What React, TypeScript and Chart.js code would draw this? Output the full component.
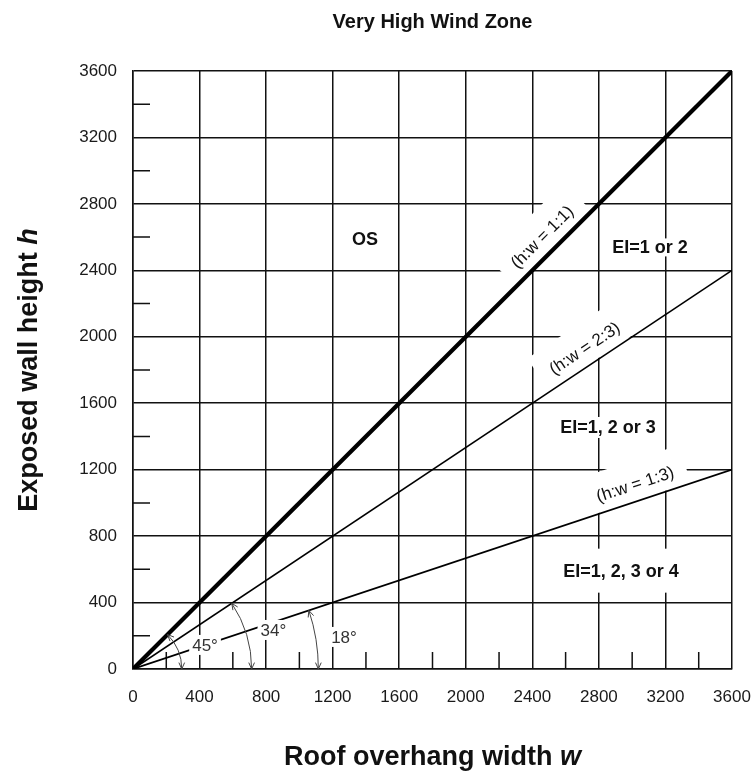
import React, { useEffect, useRef } from "react";
import { Chart, registerables } from "chart.js";

Chart.register(...registerables);

const chartTitle = "Very High Wind Zone";
const xTitleText = "Roof overhang width ";
const xTitleVar = "w";
const yTitleText = "Exposed wall height ";
const yTitleVar = "h";

const axisMin = 0;
const axisMax = 3600;
const majorTicks = [0, 400, 800, 1200, 1600, 2000, 2400, 2800, 3200, 3600];
const minorTicks = [200, 600, 1000, 1400, 1800, 2200, 2600, 3000, 3400];

const ratioLabels = ["(h:w = 1:1)", "(h:w = 2:3)", "(h:w = 1:3)"];
const ratioEndW = [3600, 3600, 3600];
const ratioEndH = [3600, 2400, 1200];
const ratioLabelW = [2530, 2770, 3050];

const zoneLabels = ["OS", "EI=1 or 2", "EI=1, 2 or 3", "EI=1, 2, 3 or 4"];
const zoneLabelW = [1394, 3107, 2855, 2933];
const zoneLabelH = [2588, 2538, 1454, 592];

const angleLabels = ["45°", "34°", "18°"];
const angleLineIndex = [0, 1, 2];
const angleArcReachW = [293, 713, 1114];
const angleLabelW = [433, 844, 1268];
const angleLabelH = [145, 235, 193];

const FONT = "'Liberation Sans', Arial, Helvetica, sans-serif";
const INK = "#111";

function ratioGeo(x: any, y: any, i: number) {
  const w = ratioLabelW[i];
  const h = (w * ratioEndH[i]) / ratioEndW[i];
  const px = x.getPixelForValue(w);
  const py = y.getPixelForValue(h);
  const theta = Math.atan2(
    y.getPixelForValue(0) - y.getPixelForValue(ratioEndH[i]),
    x.getPixelForValue(ratioEndW[i]) - x.getPixelForValue(0)
  );
  return { px, py, theta };
}

function arrowHead(ctx: CanvasRenderingContext2D, tx: number, ty: number, dx: number, dy: number) {
  const ang = Math.atan2(dy, dx);
  const len = 7;
  const spread = 0.42;
  ctx.beginPath();
  ctx.moveTo(tx - len * Math.cos(ang - spread), ty - len * Math.sin(ang - spread));
  ctx.lineTo(tx, ty);
  ctx.lineTo(tx - len * Math.cos(ang + spread), ty - len * Math.sin(ang + spread));
  ctx.stroke();
}

const zoneBoxPadY = [0, 0, 1.5, 13];

const overlayPlugin = {
  id: "overlay",
  beforeDatasetsDraw(chart: any) {
    const { ctx, chartArea: a } = chart;
    const x = chart.scales.x;
    const y = chart.scales.y;
    ctx.save();
    ctx.strokeStyle = INK;
    ctx.lineWidth = 1.5;
    ctx.beginPath();
    minorTicks.forEach((v) => {
      const px = x.getPixelForValue(v);
      ctx.moveTo(px, a.bottom);
      ctx.lineTo(px, a.bottom - 17);
      const py = y.getPixelForValue(v);
      ctx.moveTo(a.left, py);
      ctx.lineTo(a.left + 17, py);
    });
    ctx.stroke();
    ctx.font = `17px ${FONT}`;
    ratioLabels.forEach((t, i) => {
      const g = ratioGeo(x, y, i);
      ctx.save();
      ctx.translate(g.px, g.py);
      ctx.rotate(-g.theta);
      const w = ctx.measureText(t).width + 26;
      ctx.fillStyle = "#fff";
      ctx.fillRect(-w / 2, -40, w, 39);
      ctx.restore();
    });
    ctx.restore();
  },
  afterDatasetsDraw(chart: any) {
    const { ctx } = chart;
    const x = chart.scales.x;
    const y = chart.scales.y;
    ctx.save();
    ctx.font = `17px ${FONT}`;
    ctx.fillStyle = INK;
    ctx.textAlign = "center";
    ctx.textBaseline = "middle";
    ratioLabels.forEach((t, i) => {
      const g = ratioGeo(x, y, i);
      ctx.save();
      ctx.translate(g.px, g.py);
      ctx.rotate(-g.theta);
      ctx.fillText(t, 0, -16);
      ctx.restore();
    });
    ctx.font = `bold 18px ${FONT}`;
    zoneLabels.forEach((t, i) => {
      const px = x.getPixelForValue(zoneLabelW[i]);
      const py = y.getPixelForValue(zoneLabelH[i]);
      const w = ctx.measureText(t).width;
      if (i > 0) {
        const hh = 9 + zoneBoxPadY[i];
        ctx.fillStyle = "#fff";
        ctx.fillRect(px - w / 2 - 8, py - hh, w + 16, hh * 2);
      }
      ctx.fillStyle = INK;
      ctx.fillText(t, px, py + 1);
    });
    ctx.font = `17px ${FONT}`;
    angleLabels.forEach((t, i) => {
      const px = x.getPixelForValue(angleLabelW[i]);
      const py = y.getPixelForValue(angleLabelH[i]);
      const w = ctx.measureText(t).width;
      ctx.fillStyle = "#fff";
      ctx.fillRect(px - w / 2 - 3, py - 10, w + 6, 20);
      ctx.fillStyle = "#333";
      ctx.fillText(t, px, py + 1);
    });
    const ox = x.getPixelForValue(0);
    const oy = y.getPixelForValue(0);
    ctx.strokeStyle = "#444";
    ctx.lineWidth = 1;
    angleArcReachW.forEach((rw, i) => {
      const li = angleLineIndex[i];
      const r = x.getPixelForValue(rw) - ox;
      const th = Math.atan2(
        oy - y.getPixelForValue(ratioEndH[li]),
        x.getPixelForValue(ratioEndW[li]) - ox
      );
      ctx.beginPath();
      ctx.arc(ox, oy, r, -th, 0);
      ctx.stroke();
      arrowHead(ctx, ox + r, oy, 0, 1);
      arrowHead(ctx, ox + r * Math.cos(th), oy - r * Math.sin(th), -Math.sin(th), -Math.cos(th));
    });
    ctx.restore();
  },
  afterDraw(chart: any) {
    const { ctx, chartArea: a } = chart;
    const cx = (a.left + a.right) / 2;
    const cy = (a.top + a.bottom) / 2;
    ctx.save();
    ctx.fillStyle = INK;
    ctx.textBaseline = "alphabetic";
    ctx.textAlign = "center";
    ctx.font = `bold 20px ${FONT}`;
    ctx.fillText(chartTitle, cx, 28);

    const drawTwoPart = (main: string, v: string) => {
      ctx.font = `bold 27px ${FONT}`;
      const w1 = ctx.measureText(main).width;
      ctx.font = `italic bold 27px ${FONT}`;
      const w2 = ctx.measureText(v).width;
      const start = -(w1 + w2) / 2;
      ctx.textAlign = "left";
      ctx.font = `bold 27px ${FONT}`;
      ctx.fillText(main, start, 0);
      ctx.font = `italic bold 27px ${FONT}`;
      ctx.fillText(v, start + w1, 0);
    };
    ctx.save();
    ctx.translate(cx, 765);
    drawTwoPart(xTitleText, xTitleVar);
    ctx.restore();
    ctx.save();
    ctx.translate(37, cy);
    ctx.rotate(-Math.PI / 2);
    drawTwoPart(yTitleText, yTitleVar);
    ctx.restore();
    ctx.restore();
  },
};

export default function App() {
  const ref = useRef<HTMLCanvasElement | null>(null);
  useEffect(() => {
    document.body.style.margin = "0";
    const canvas = ref.current;
    if (!canvas) return;
    const tickFont = { family: FONT, size: 17 };
    const chart = new Chart(canvas, {
      type: "scatter",
      data: {
        datasets: ratioLabels.map((name, i) => ({
          label: name,
          data: [
            { x: 0, y: 0 },
            { x: ratioEndW[i], y: ratioEndH[i] },
          ],
          showLine: true,
          borderColor: "#000",
          borderWidth: i === 0 ? 4.2 : 1.7,
          pointRadius: 0,
          fill: false,
        })),
      },
      options: {
        responsive: false,
        animation: false,
        devicePixelRatio: 1,
        layout: { padding: { top: 71, right: 21, left: 0, bottom: 0 } },
        plugins: {
          legend: { display: false },
          tooltip: { enabled: false },
          title: { display: false },
        },
        scales: {
          x: {
            type: "linear",
            min: axisMin,
            max: axisMax,
            afterBuildTicks: (s: any) => {
              s.ticks = majorTicks.map((v) => ({ value: v }));
            },
            afterFit: (s: any) => {
              s.height = 107;
              s.paddingLeft = 0;
              s.paddingRight = 0;
            },
            grid: { color: INK, lineWidth: 1.5, drawTicks: false },
            border: { color: INK, width: 1.5 },
            ticks: {
              font: tickFont,
              color: "#1a1a1a",
              padding: 18,
              maxRotation: 0,
              autoSkip: false,
              callback: (v: any) => String(v),
            },
          },
          y: {
            type: "linear",
            min: axisMin,
            max: axisMax,
            afterBuildTicks: (s: any) => {
              s.ticks = majorTicks.map((v) => ({ value: v }));
            },
            afterFit: (s: any) => {
              s.width = 133;
              s.paddingTop = 0;
              s.paddingBottom = 0;
            },
            grid: { color: INK, lineWidth: 1.5, drawTicks: false },
            border: { color: INK, width: 1.5 },
            ticks: {
              font: tickFont,
              color: "#1a1a1a",
              padding: 16,
              autoSkip: false,
              callback: (v: any) => String(v),
            },
          },
        },
      },
      plugins: [overlayPlugin],
    } as any);
    return () => chart.destroy();
  }, []);
  return (
    <div style={{ width: 753, height: 776, position: "relative", background: "#fff" }}>
      <canvas ref={ref} width={753} height={776} style={{ width: 753, height: 776, display: "block" }} />
    </div>
  );
}
